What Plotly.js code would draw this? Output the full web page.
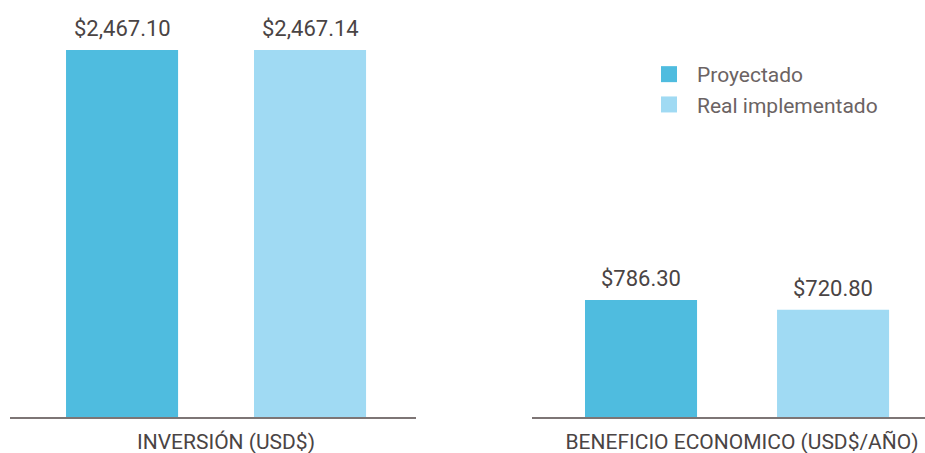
<!DOCTYPE html>
<html>
<head>
<meta charset="utf-8">
<script src="https://cdn.plot.ly/plotly-3.0.1.min.js"></script>
<style>html,body{margin:0;padding:0;background:#fff;}#chart{width:925px;height:453px;}</style>
</head>
<body>
<div id="chart"></div>
<script>
// ---- data ----
const groupLabels = ['INVERSIÓN (USD$)', 'BENEFICIO ECONOMICO (USD$/AÑO)'];
const seriesNames = ['Proyectado', 'Real implementado'];
const proyectado = [2467.10, 786.30];
const realImplementado = [2467.14, 720.80];
const proyectadoText = ['$2,467.10', '$786.30'];
const realText = ['$2,467.14', '$720.80'];

// ---- styles ----
const colors = ['#4fbcdf', '#a0daf3'];
const barWidth = 0.276;
const offsetsByGroup = [[-0.362, 0.101], [-0.367, 0.106]];
const textColor = '#4a4444';
const fontFam = 'Roboto, "Open Sans", sans-serif';

const series = [proyectado, realImplementado];
const texts = [proyectadoText, realText];
const axes = ['x', 'x2'];

const traces = [];
const annotations = [];
for (let g = 0; g < groupLabels.length; g++) {
  for (let s = 0; s < series.length; s++) {
    const off = offsetsByGroup[g][s];
    traces.push({
      type: 'bar',
      name: seriesNames[s],
      x: [groupLabels[g]],
      y: [series[s][g]],
      xaxis: axes[g],
      yaxis: g === 0 ? 'y' : 'y2',
      width: [barWidth],
      offset: [off],
      marker: {color: colors[s]},
      showlegend: false,
      hoverinfo: 'skip'
    });
    annotations.push({
      xref: axes[g], yref: g === 0 ? 'y' : 'y2',
      x: off + barWidth / 2,
      y: series[s][g],
      text: texts[s][g],
      showarrow: false,
      yanchor: 'bottom',
      yshift: 7,
      font: {family: fontFam, size: 22, color: textColor}
    });
  }
}
// legend entries with larger square swatches
for (let s = 0; s < series.length; s++) {
  traces.push({
    type: 'scatter', mode: 'markers', name: seriesNames[s],
    x: [null], y: [null], xaxis: 'x', yaxis: 'y',
    marker: {symbol: 'square', size: 16, color: colors[s]},
    showlegend: true, hoverinfo: 'skip'
  });
}

const W = 925, H = 453;
const yDomain = [36 / H, 1];
const yRange = [0, 2803];
const xCommon = {
  type: 'category',
  showline: true, linecolor: '#7d7575', linewidth: 2,
  showgrid: false, zeroline: false, ticks: '',
  tickfont: {family: fontFam, size: 21, color: textColor},
  fixedrange: true
};

const layout = {
  width: W, height: H,
  margin: {l: 0, r: 0, t: 0, b: 0, pad: 0},
  paper_bgcolor: '#ffffff', plot_bgcolor: '#ffffff',
  showlegend: true,
  legend: {
    x: 641 / W, y: 1 - 54 / H, xanchor: 'left', yanchor: 'top',
    itemwidth: 46,
    font: {family: fontFam, size: 21, color: '#6b6363'},
    bgcolor: 'rgba(0,0,0,0)', traceorder: 'normal'
  },
  xaxis: Object.assign({}, xCommon, {domain: [10 / W, 416 / W], range: [-0.5, 0.5], anchor: 'y', ticklabelshift: 13, ticklabelstandoff: 5}),
  xaxis2: Object.assign({}, xCommon, {domain: [532 / W, 1], range: [(532 - 734) / 406, (925 - 734) / 406], anchor: 'y2', ticklabelshift: 8, ticklabelstandoff: 5}),
  yaxis: {domain: yDomain, range: yRange, visible: false, fixedrange: true, anchor: 'x'},
  yaxis2: {domain: yDomain, range: yRange, visible: false, fixedrange: true, anchor: 'x2'},
  annotations: annotations
};

Plotly.newPlot('chart', traces, layout, {displayModeBar: false, staticPlot: true});
</script>
</body>
</html>
